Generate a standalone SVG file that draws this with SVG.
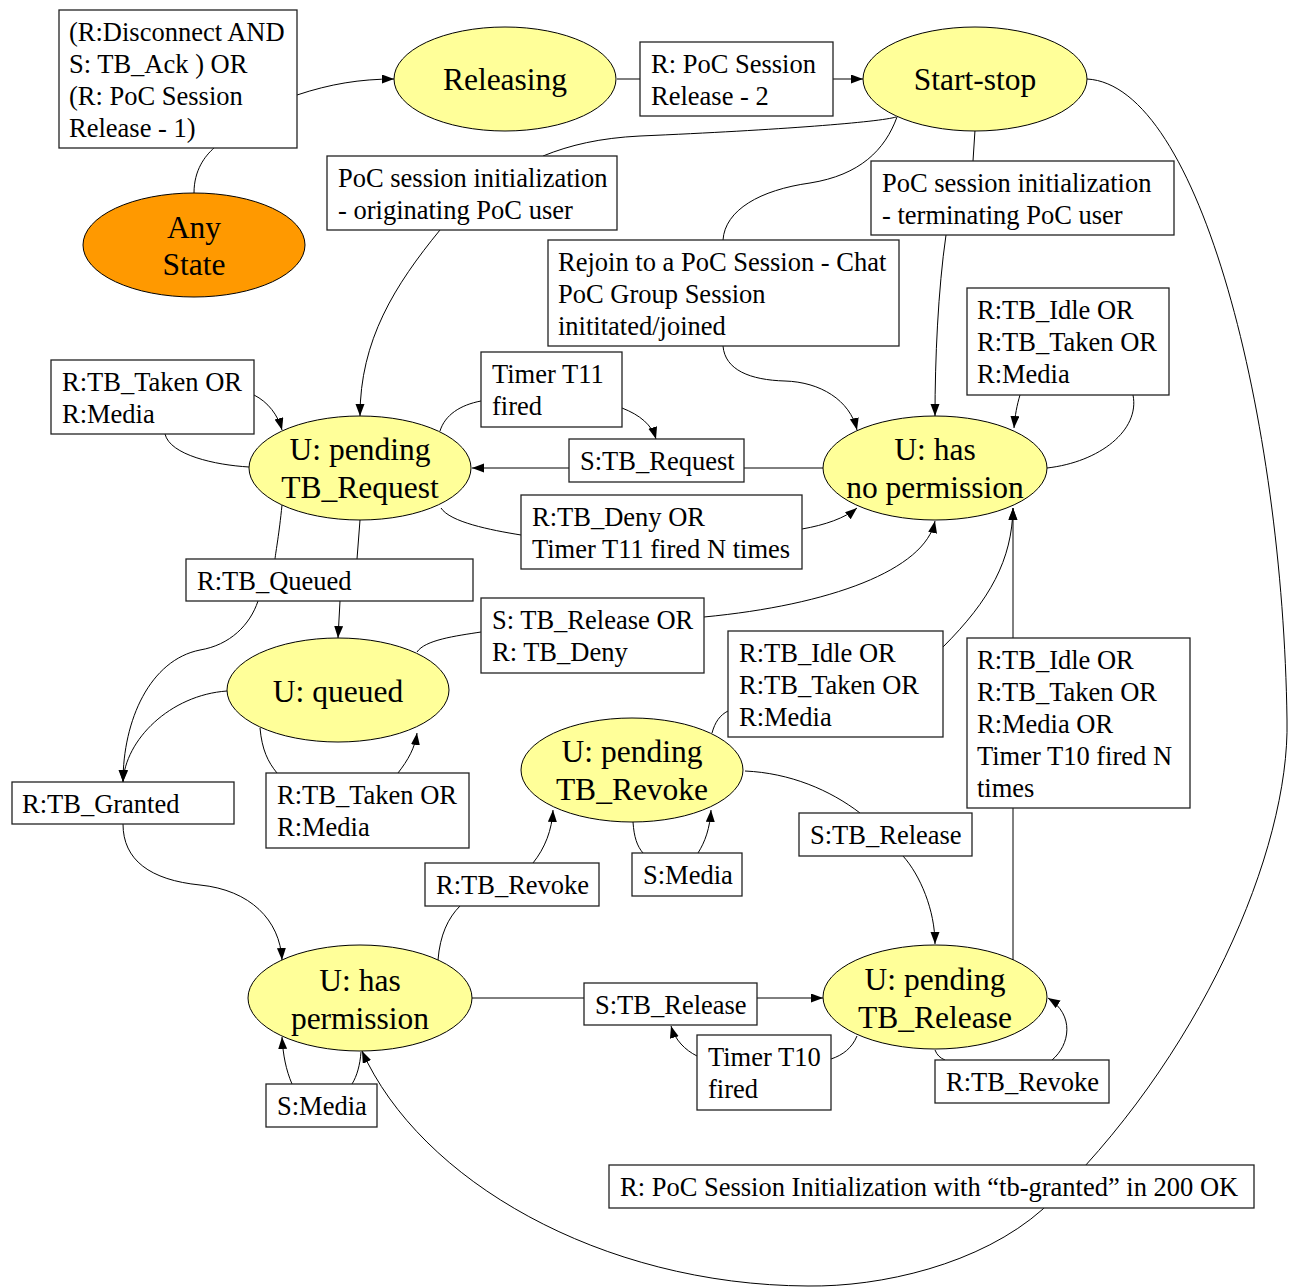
<svg xmlns="http://www.w3.org/2000/svg" width="1291" height="1287" viewBox="0 0 1291 1287">
<style>
.st{fill:#FFFF99;stroke:#000;stroke-width:1}
.any{fill:#FF9900;stroke:#000;stroke-width:1}
.bx{fill:#fff;stroke:#222;stroke-width:1.3}
.nt{font-family:"Liberation Serif","Times New Roman",serif;font-size:31.5px;fill:#000;text-anchor:middle}
.lt{font-family:"Liberation Serif","Times New Roman",serif;font-size:26.5px;fill:#000}
.c{fill:none;stroke:#000;stroke-width:1}
</style>
<defs>
<marker id="ah" markerUnits="userSpaceOnUse" markerWidth="12" markerHeight="10" refX="12" refY="4.5" orient="auto">
<path d="M0,0 L12,4.5 L0,9 z" fill="#000"/>
</marker>
</defs>
<g id="connectors">
<path class="c" d="M194,193 C194,170 205,156 214,148"/>
<path class="c" d="M297,95 C330,84 360,79 394,79" marker-end="url(#ah)"/>
<path class="c" d="M617,79 L640,79"/>
<path class="c" d="M833,79 L863,79" marker-end="url(#ah)"/>
<path class="c" d="M896,117 C880,122 780,130 640,136 C600,138 570,145 543,156"/>
<path class="c" d="M440,230 C395,285 360,340 360,416" marker-end="url(#ah)"/>
<path class="c" d="M897,117 C885,150 860,175 810,183 C760,190 725,210 723,240"/>
<path class="c" d="M723,346 C725,370 750,380 785,381 C820,382 850,400 857,430" marker-end="url(#ah)"/>
<path class="c" d="M975,130 L973,161"/>
<path class="c" d="M946,235 C938,290 935,360 935,416" marker-end="url(#ah)"/>
<path class="c" d="M1087,79 C1200,85 1283,420 1287,720 C1290,850 1200,1060 1043,1209 C980,1265 880,1287 808,1286 C600,1285 420,1180 362,1051" marker-end="url(#ah)"/>
<path class="c" d="M249,467 C215,465 170,455 165,434"/>
<path class="c" d="M254,395 C268,402 278,415 282,430" marker-end="url(#ah)"/>
<path class="c" d="M440,431 C445,415 460,405 481,401"/>
<path class="c" d="M622,408 C640,415 652,425 656,439" marker-end="url(#ah)"/>
<path class="c" d="M823,468 L744,468"/>
<path class="c" d="M569,468 L472,468" marker-end="url(#ah)"/>
<path class="c" d="M441,508 C450,522 490,530 521,535"/>
<path class="c" d="M802,529 C825,525 845,518 857,508" marker-end="url(#ah)"/>
<path class="c" d="M360,520 L357,559"/>
<path class="c" d="M340,601 L338,638" marker-end="url(#ah)"/>
<path class="c" d="M282,505 C279,535 276,550 275,559"/>
<path class="c" d="M258,601 C250,625 230,645 200,650 C150,660 123,720 123,782" marker-end="url(#ah)"/>
<path class="c" d="M227,691 C170,695 125,740 123,782" marker-end="url(#ah)"/>
<path class="c" d="M123,824 C123,860 150,880 200,885 C250,890 280,920 282,960" marker-end="url(#ah)"/>
<path class="c" d="M417,652 C425,640 455,636 481,632"/>
<path class="c" d="M704,617 C830,605 925,570 935,521" marker-end="url(#ah)"/>
<path class="c" d="M260,728 C262,750 268,762 277,773"/>
<path class="c" d="M398,773 C408,760 415,748 417,733" marker-end="url(#ah)"/>
<path class="c" d="M712,733 C715,722 720,715 728,711"/>
<path class="c" d="M943,647 C990,600 1012,560 1013,508" marker-end="url(#ah)"/>
<path class="c" d="M1013,960 L1013,808"/>
<path class="c" d="M1013,638 L1013,508" marker-end="url(#ah)"/>
<path class="c" d="M745,771 C790,773 830,790 860,813"/>
<path class="c" d="M903,856 C920,875 935,910 935,944" marker-end="url(#ah)"/>
<path class="c" d="M438,960 C440,935 448,918 460,906"/>
<path class="c" d="M533,863 C545,848 552,830 553,810" marker-end="url(#ah)"/>
<path class="c" d="M633,822 C634,837 637,846 643,853"/>
<path class="c" d="M698,853 C705,842 710,828 711,810" marker-end="url(#ah)"/>
<path class="c" d="M472,998 L584,998"/>
<path class="c" d="M757,998 L823,998" marker-end="url(#ah)"/>
<path class="c" d="M857,1036 C852,1048 843,1055 831,1059"/>
<path class="c" d="M697,1056 C685,1050 675,1040 671,1026" marker-end="url(#ah)"/>
<path class="c" d="M935,1050 C937,1055 940,1058 945,1060"/>
<path class="c" d="M1052,1060 C1070,1045 1075,1015 1048,998" marker-end="url(#ah)"/>
<path class="c" d="M1047,468 C1100,462 1140,430 1133,395"/>
<path class="c" d="M1020,395 C1017,405 1015,415 1014,428" marker-end="url(#ah)"/>
<path class="c" d="M361,1052 C360,1065 357,1076 352,1084"/>
<path class="c" d="M292,1084 C286,1070 283,1055 282,1037" marker-end="url(#ah)"/>
</g>
<g id="any-state"><ellipse class="any" cx="194" cy="245" rx="111" ry="52"/><text class="nt" x="194" y="238">Any</text><text class="nt" x="194" y="275">State</text></g>
<g id="releasing"><ellipse class="st" cx="505" cy="79" rx="111" ry="52"/><text class="nt" x="505" y="90">Releasing</text></g>
<g id="start-stop"><ellipse class="st" cx="975" cy="79" rx="112" ry="52"/><text class="nt" x="975" y="90">Start-stop</text></g>
<g id="pending-tb-request"><ellipse class="st" cx="360" cy="468" rx="111" ry="52"/><text class="nt" x="360" y="460">U: pending</text><text class="nt" x="360" y="498">TB_Request</text></g>
<g id="has-no-permission"><ellipse class="st" cx="935" cy="468" rx="112" ry="52"/><text class="nt" x="935" y="460">U: has</text><text class="nt" x="935" y="498">no permission</text></g>
<g id="queued"><ellipse class="st" cx="338" cy="690" rx="111" ry="52"/><text class="nt" x="338" y="702">U: queued</text></g>
<g id="pending-tb-revoke"><ellipse class="st" cx="632" cy="770" rx="111" ry="52"/><text class="nt" x="632" y="762">U: pending</text><text class="nt" x="632" y="800">TB_Revoke</text></g>
<g id="has-permission"><ellipse class="st" cx="360" cy="998" rx="112" ry="53"/><text class="nt" x="360" y="991">U: has</text><text class="nt" x="360" y="1029">permission</text></g>
<g id="pending-tb-release"><ellipse class="st" cx="935" cy="997" rx="112" ry="52"/><text class="nt" x="935" y="990">U: pending</text><text class="nt" x="935" y="1028">TB_Release</text></g>
<g id="lbl-disconnect"><rect class="bx" x="59" y="10" width="238" height="138"/><text class="lt" x="69" y="41">(R:Disconnect AND</text><text class="lt" x="69" y="73">S: TB_Ack ) OR</text><text class="lt" x="69" y="105">(R: PoC Session</text><text class="lt" x="69" y="137">Release - 1)</text></g>
<g id="lbl-release2"><rect class="bx" x="640" y="42" width="193" height="74"/><text class="lt" x="651" y="73">R: PoC Session</text><text class="lt" x="651" y="105">Release - 2</text></g>
<g id="lbl-orig"><rect class="bx" x="327" y="156" width="290" height="74"/><text class="lt" x="338" y="187">PoC session initialization</text><text class="lt" x="338" y="219">- originating PoC user</text></g>
<g id="lbl-term"><rect class="bx" x="871" y="161" width="303" height="74"/><text class="lt" x="882" y="192">PoC session initialization</text><text class="lt" x="882" y="224">- terminating PoC user</text></g>
<g id="lbl-rejoin"><rect class="bx" x="548" y="240" width="351" height="106"/><text class="lt" x="558" y="271">Rejoin to a PoC Session - Chat</text><text class="lt" x="558" y="303">PoC Group Session</text><text class="lt" x="558" y="335">inititated/joined</text></g>
<g id="lbl-nop-loop"><rect class="bx" x="967" y="288" width="202" height="107"/><text class="lt" x="977" y="319">R:TB_Idle OR</text><text class="lt" x="977" y="351">R:TB_Taken OR</text><text class="lt" x="977" y="383">R:Media</text></g>
<g id="lbl-req-loop"><rect class="bx" x="51" y="360" width="203" height="74"/><text class="lt" x="62" y="391">R:TB_Taken OR</text><text class="lt" x="62" y="423">R:Media</text></g>
<g id="lbl-t11"><rect class="bx" x="481" y="352" width="141" height="75"/><text class="lt" x="492" y="383">Timer T11</text><text class="lt" x="492" y="415">fired</text></g>
<g id="lbl-s-tb-request"><rect class="bx" x="569" y="439" width="175" height="43"/><text class="lt" x="580" y="470">S:TB_Request</text></g>
<g id="lbl-deny"><rect class="bx" x="521" y="495" width="281" height="74"/><text class="lt" x="532" y="526">R:TB_Deny OR</text><text class="lt" x="532" y="558">Timer T11 fired N times</text></g>
<g id="lbl-queued"><rect class="bx" x="186" y="559" width="287" height="42"/><text class="lt" x="197" y="590">R:TB_Queued</text></g>
<g id="lbl-release-deny"><rect class="bx" x="481" y="598" width="223" height="75"/><text class="lt" x="492" y="629">S: TB_Release OR</text><text class="lt" x="492" y="661">R: TB_Deny</text></g>
<g id="lbl-revoke-idle"><rect class="bx" x="728" y="631" width="215" height="106"/><text class="lt" x="739" y="662">R:TB_Idle OR</text><text class="lt" x="739" y="694">R:TB_Taken OR</text><text class="lt" x="739" y="726">R:Media</text></g>
<g id="lbl-release-idle"><rect class="bx" x="967" y="638" width="223" height="170"/><text class="lt" x="977" y="669">R:TB_Idle OR</text><text class="lt" x="977" y="701">R:TB_Taken OR</text><text class="lt" x="977" y="733">R:Media OR</text><text class="lt" x="977" y="765">Timer T10 fired N</text><text class="lt" x="977" y="797">times</text></g>
<g id="lbl-granted"><rect class="bx" x="12" y="782" width="222" height="42"/><text class="lt" x="22" y="813">R:TB_Granted</text></g>
<g id="lbl-queued-loop"><rect class="bx" x="266" y="773" width="203" height="75"/><text class="lt" x="277" y="804">R:TB_Taken OR</text><text class="lt" x="277" y="836">R:Media</text></g>
<g id="lbl-revoke-media"><rect class="bx" x="632" y="853" width="110" height="43"/><text class="lt" x="643" y="884">S:Media</text></g>
<g id="lbl-revoke-release"><rect class="bx" x="799" y="813" width="173" height="43"/><text class="lt" x="810" y="844">S:TB_Release</text></g>
<g id="lbl-revoke"><rect class="bx" x="425" y="863" width="174" height="43"/><text class="lt" x="436" y="894">R:TB_Revoke</text></g>
<g id="lbl-perm-release"><rect class="bx" x="584" y="983" width="173" height="42"/><text class="lt" x="595" y="1014">S:TB_Release</text></g>
<g id="lbl-t10"><rect class="bx" x="697" y="1035" width="134" height="75"/><text class="lt" x="708" y="1066">Timer T10</text><text class="lt" x="708" y="1098">fired</text></g>
<g id="lbl-release-revoke"><rect class="bx" x="935" y="1060" width="174" height="43"/><text class="lt" x="946" y="1091">R:TB_Revoke</text></g>
<g id="lbl-perm-media"><rect class="bx" x="266" y="1084" width="111" height="43"/><text class="lt" x="277" y="1115">S:Media</text></g>
<g id="lbl-tb-granted"><rect class="bx" x="609" y="1165" width="645" height="43"/><text class="lt" x="620" y="1196">R: PoC Session Initialization with “tb-granted” in 200 OK</text></g>
</svg>
